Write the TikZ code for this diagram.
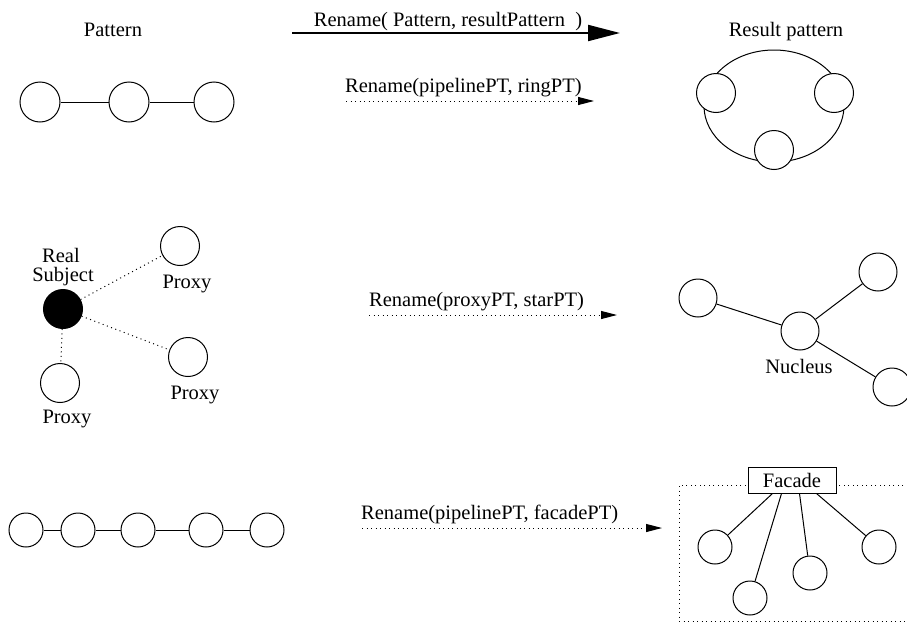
\documentclass[tikz,border=0pt]{standalone}
\usepackage{fontspec}
\setmainfont{Liberation Serif}
\usetikzlibrary{arrows.meta,calc}
\begin{document}
\begin{tikzpicture}[x=1pt,y=-1pt,
  lbl/.style={font=\fontsize{20.5}{19}\selectfont, inner sep=0pt},
  circ/.style={circle, draw, fill=white, inner sep=0pt, line width=1pt, minimum size=#1},
  circ/.default=40pt,
  edge/.style={line width=1pt},
  dotline/.style={line width=1pt, dash pattern=on 1pt off 3.5pt},
  dotarrow/.style={dotline, -{Triangle[length=16pt,width=8pt]}},
  bigarrow/.style={line width=2pt, -{Triangle[length=32pt,width=16pt]}}
]
\useasboundingbox (0,0) rectangle (907,624);

% headers
\node[lbl, anchor=base] (hpat) at (113,36) {Pattern};
\node[lbl, anchor=base] (hres) at (786,36) {Result pattern};
\coordinate (a0s) at (292,33);
\coordinate (a0e) at (620,33);
\draw[bigarrow] (a0s) -- (a0e);
\node[lbl, anchor=base] (a0l) at (448,26) {Rename( Pattern, resultPattern\ \ )};

% row 1: pipeline
\node[circ] (p1) at (40,102) {};
\node[circ] (p2) at (129,102) {};
\node[circ] (p3) at (214,102) {};
\draw[edge] (p1) -- (p2);
\draw[edge] (p2) -- (p3);

\coordinate (a1s) at (346,101);
\coordinate (a1e) at (594,101);
\draw[dotarrow] (a1s) -- (a1e);
\node[lbl, anchor=base west] (a1l) at (345,92) {Rename(pipelinePT, ringPT)};

% ring
\draw[edge] (774,106) ellipse [x radius=70, y radius=56];
\node[circ=39pt] (r1) at (716,93) {};
\node[circ=39pt] (r2) at (834,93) {};
\node[circ=39pt] (r3) at (774,150) {};

% row 2: proxy
\node[circle, fill=black, draw, inner sep=0pt, minimum size=39pt, line width=1pt] (rs) at (63,309) {};
\node[lbl, anchor=base] (rsl1) at (61,262) {Real};
\node[lbl, anchor=base] (rsl2) at (63,281) {Subject};
\node[circ=39pt] (px1) at (180,246) {};
\node[circ=39pt] (px2) at (188,357) {};
\node[circ=39pt] (px3) at (60,383) {};
\node[lbl, anchor=base] (px1l) at (187,288) {Proxy};
\node[lbl, anchor=base] (px2l) at (195,399) {Proxy};
\node[lbl, anchor=base] (px3l) at (67,423) {Proxy};
\draw[dotline] (rs) -- (px1);
\draw[dotline] (rs) -- (px2);
\draw[dotline] (rs) -- (px3);

\coordinate (a2s) at (369,315);
\coordinate (a2e) at (617,315);
\draw[dotarrow] (a2s) -- (a2e);
\node[lbl, anchor=base west] (a2l) at (369,306) {Rename(proxyPT, starPT)};

% star
\node[circ=38pt] (s1) at (698,298) {};
\node[circ=38pt] (s0) at (800,331) {};
\node[circ=38pt] (s2) at (878,272) {};
\node[circ=38pt] (s3) at (892,387) {};
\draw[edge] (s1) -- (s0);
\draw[edge] (s0) -- (s2);
\draw[edge] (s0) -- (s3);
\node[lbl, anchor=base] (nl) at (799,373) {Nucleus};

% row 3: pipeline chain
\node[circ=34pt] (c1) at (26,530) {};
\node[circ=34pt] (c2) at (78,530) {};
\node[circ=34pt] (c3) at (138,530) {};
\node[circ=34pt] (c4) at (206,530) {};
\node[circ=34pt] (c5) at (267,530) {};
\draw[edge] (c1) -- (c2);
\draw[edge] (c2) -- (c3);
\draw[edge] (c3) -- (c4);
\draw[edge] (c4) -- (c5);

\coordinate (a3s) at (362,528);
\coordinate (a3e) at (662,528);
\draw[dotarrow] (a3s) -- (a3e);
\node[lbl, anchor=base west] (a3l) at (361,519) {Rename(pipelinePT, facadePT)};

% facade
\draw[dotline] (912,485) -- (679,485) -- (679,621) -- (912,621);
\node[lbl, draw, fill=white, line width=1pt, minimum width=88pt, minimum height=26pt] (fac) at (792,480) {Facade};
\node[circ=34pt] (fc1) at (715,547) {};
\node[circ=34pt] (fc2) at (750,598) {};
\node[circ=34pt] (fc3) at (810,573) {};
\node[circ=34pt] (fc4) at (879,547) {};
\coordinate (f1) at ($(fac.south west)+(25,0)$);
\coordinate (f2) at ($(fac.south west)+(34,0)$);
\coordinate (f3) at ($(fac.south west)+(52,0)$);
\coordinate (f4) at ($(fac.south west)+(69,0)$);
\draw[edge] (f1) -- (fc1);
\draw[edge] (f2) -- (fc2);
\draw[edge] (f3) -- (fc3);
\draw[edge] (f4) -- (fc4);
\end{tikzpicture}
\end{document}
